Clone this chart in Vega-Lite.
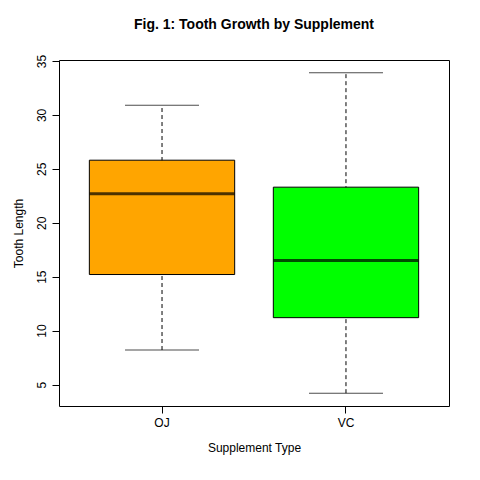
{
  "$schema": "https://vega.github.io/schema/vega-lite/v6.json",
  "autosize": "none",
  "width": 390,
  "height": 346,
  "padding": {"left": 59, "top": 60, "right": 31, "bottom": 74},
  "background": "white",
  "title": {"text": "Fig. 1: Tooth Growth by Supplement", "font": "Liberation Sans", "fontSize": 14, "fontWeight": "bold", "offset": 22},
  "config": {"view": {"stroke": "black", "strokeWidth": 1}, "axis": {"labelFont": "Liberation Sans", "titleFont": "Liberation Sans", "labelFontSize": 12, "titleFontSize": 12, "titleFontWeight": "normal", "domain": false, "grid": false, "tickColor": "black", "labelColor": "black", "titleColor": "black", "tickSize": 7, "labelPadding": 4}},
  "data": {"values": [
    {"supp": "OJ", "min": 8.2, "q1": 15.2, "median": 22.7, "q3": 25.8, "max": 30.9, "color": "orange"},
    {"supp": "VC", "min": 4.2, "q1": 11.2, "median": 16.5, "q3": 23.3, "max": 33.9, "color": "#00ff00"}
  ]},
  "encoding": {
    "x": {"field": "supp", "type": "nominal", "title": "Supplement Type", "scale": {"paddingInner": 0, "paddingOuter": 0.06}, "axis": {"labelAngle": 0, "titlePadding": 14}}
  },
  "layer": [
    {"mark": {"type": "rule", "strokeDash": [4, 3], "color": "black"},
     "encoding": {"y": {"field": "min", "type": "quantitative", "scale": {"domain": [3.01, 35.09], "nice": false, "zero": false}, "title": "Tooth Length", "axis": {"values": [5, 10, 15, 20, 25, 30, 35], "labelAngle": 270, "labelAlign": "center", "labelBaseline": "bottom", "titlePadding": 10}}, "y2": {"field": "max"}}},
    {"mark": {"type": "bar", "width": {"band": 0.79}, "stroke": "black", "strokeWidth": 1},
     "encoding": {"y": {"field": "q1", "type": "quantitative"}, "y2": {"field": "q3"}, "color": {"field": "color", "type": "nominal", "scale": null}}},
    {"mark": {"type": "tick", "color": "black", "thickness": 3, "size": 145},
     "encoding": {"y": {"field": "median", "type": "quantitative"}}},
    {"mark": {"type": "tick", "color": "black", "thickness": 1, "size": 74},
     "encoding": {"y": {"field": "min", "type": "quantitative"}}},
    {"mark": {"type": "tick", "color": "black", "thickness": 1, "size": 74},
     "encoding": {"y": {"field": "max", "type": "quantitative"}}}
  ]
}
